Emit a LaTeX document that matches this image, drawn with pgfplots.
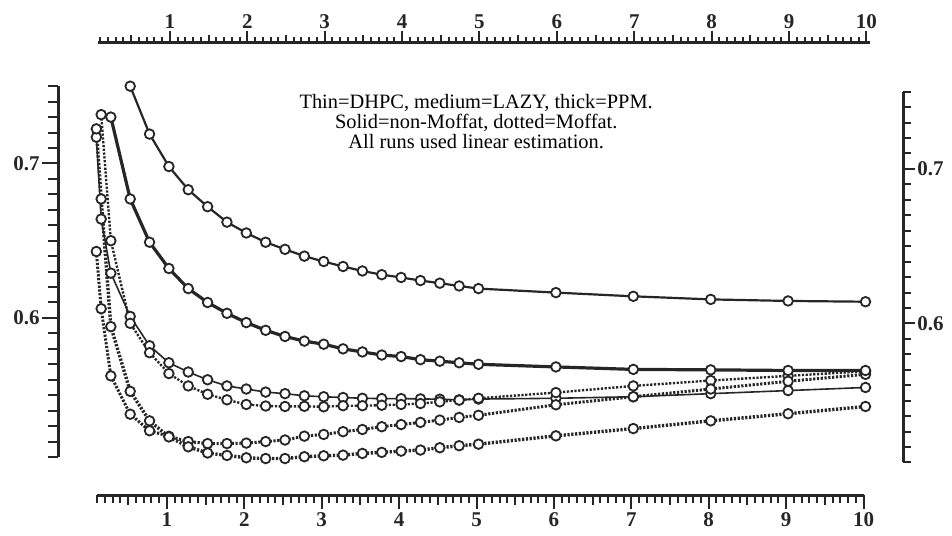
\documentclass[border=0pt]{standalone}
\usepackage{fontspec}
\setmainfont{Liberation Serif}
\usepackage{pgfplots}
\pgfplotsset{compat=1.18}

\pgfplotstableread{
x y
0.5 0.750
0.75 0.719
1.0 0.698
1.25 0.683
1.5 0.672
1.75 0.662
2.0 0.655
2.25 0.649
2.5 0.6444
2.75 0.640
3.0 0.6365
3.25 0.6333
3.5 0.6304
3.75 0.628
4.0 0.6262
4.25 0.6242
4.5 0.6225
4.75 0.6207
5.0 0.619
6.0 0.6164
7.0 0.614
8.0 0.612
9.0 0.611
10.0 0.6105
}\tabA
\pgfplotstableread{
x y
0.25 0.730
0.5 0.677
0.75 0.649
1.0 0.632
1.25 0.619
1.5 0.610
1.75 0.603
2.0 0.597
2.25 0.592
2.5 0.588
2.75 0.585
3.0 0.583
3.25 0.580
3.5 0.578
3.75 0.576
4.0 0.575
4.25 0.573
4.5 0.572
4.75 0.571
5.0 0.570
6.0 0.5683
7.0 0.5667
8.0 0.5664
9.0 0.566
10.0 0.566
}\tabB
\pgfplotstableread{
x y
0.0625 0.717
0.125 0.664
0.25 0.629
0.5 0.601
0.75 0.582
1.0 0.571
1.25 0.565
1.5 0.560
1.75 0.556
2.0 0.554
2.25 0.552
2.5 0.551
2.75 0.5496
3.0 0.549
3.25 0.5485
3.5 0.548
3.75 0.5478
4.0 0.5478
4.25 0.5476
4.5 0.5474
4.75 0.547
5.0 0.5475
6.0 0.548
7.0 0.549
8.0 0.551
9.0 0.553
10.0 0.555
}\tabC
\pgfplotstableread{
x y
0.125 0.7316
0.25 0.650
0.5 0.5965
0.75 0.5775
1.0 0.564
1.25 0.556
1.5 0.5506
1.75 0.547
2.0 0.544
2.25 0.543
2.5 0.5427
2.75 0.5428
3.0 0.5425
3.25 0.5432
3.5 0.5432
3.75 0.5435
4.0 0.544
4.25 0.5446
4.5 0.5457
4.75 0.5468
5.0 0.548
6.0 0.5517
7.0 0.556
8.0 0.5595
9.0 0.5625
10.0 0.5655
}\tabD
\pgfplotstableread{
x y
0.0625 0.643
0.125 0.606
0.25 0.5625
0.5 0.5377
0.75 0.527
1.0 0.5234
1.25 0.520
1.5 0.5187
1.75 0.5187
2.0 0.519
2.25 0.520
2.5 0.521
2.75 0.5235
3.0 0.5246
3.25 0.5264
3.5 0.5278
3.75 0.5296
4.0 0.531
4.25 0.5324
4.5 0.5339
4.75 0.5356
5.0 0.537
6.0 0.5438
7.0 0.549
8.0 0.554
9.0 0.559
10.0 0.5635
}\tabE
\pgfplotstableread{
x y
0.0625 0.7224
0.125 0.677
0.25 0.5944
0.5 0.5525
0.75 0.5334
1.0 0.523
1.25 0.5166
1.5 0.5126
1.75 0.511
2.0 0.5095
2.25 0.509
2.5 0.509
2.75 0.5102
3.0 0.5108
3.25 0.5112
3.5 0.5123
3.75 0.513
4.0 0.5138
4.25 0.5145
4.5 0.516
4.75 0.5173
5.0 0.5183
6.0 0.5237
7.0 0.5284
8.0 0.5334
9.0 0.538
10.0 0.5427
}\tabF

\pgfplotsset{
  ruler/.style={
    tick align=outside,
    /pgf/number format/assume math mode=true,
    tick label style={font=\fontsize{10.5}{12}\selectfont\bfseries, text=black!85},
    axis line style={line width=1.5pt, black!85},
    every tick/.style={line width=1pt, black!85},
  },
  ser/.style={black!85, mark=*, mark size=2.4pt,
    mark options={solid, fill=white, draw=black!85, line width=0.9pt}},
  dot/.style={dash pattern=on 1.1pt off 0.8pt},
}

\begin{document}
\begin{tikzpicture}
\path[use as bounding box] (0,0) rectangle (476pt,267.5pt);

% left ruler + data
\begin{axis}[ruler,
  at={(29pt,39pt)}, anchor=south west,
  x=38.7pt, y=772.5pt,
  xmin=-0.4328, xmax=10.484, ymin=0.51, ymax=0.75,
  clip=false,
  axis x line=none, axis y line*=left,
  ytick={0.6,0.7}, yticklabels={0.6,0.7},
  minor ytick={0.51,0.52,0.53,0.54,0.55,0.56,0.57,0.58,0.59,0.61,0.62,0.63,0.64,0.65,0.66,0.67,0.68,0.69,0.71,0.72,0.73,0.74,0.75},
  major tick length=8pt, minor tick length=5pt,
  yticklabel style={inner sep=1pt},
]
\addplot[ser, line width=0.8pt] table {\tabC};
\addplot[ser, dot, line width=1.2pt] table {\tabD};
\addplot[ser, dot, line width=1.5pt] table {\tabE};
\addplot[ser, dot, line width=1.7pt] table {\tabF};
\addplot[ser, line width=1.6pt] table {\tabB};
\addplot[ser, line width=1.1pt] table {\tabA};
\node[align=center, font=\fontsize{10.2}{10}\selectfont, text=black] at (axis cs:4.97,0.7268)
  {Thin=DHPC, medium=LAZY, thick=PPM.\\Solid=non-Moffat, dotted=Moffat.\\All runs used linear estimation.};
\end{axis}

% right ruler
\begin{axis}[ruler,
  at={(451.5pt,36.25pt)}, anchor=south east,
  x=1pt, xmin=0, xmax=1,
  y=772.5pt, ymin=0.51, ymax=0.75,
  axis x line=none, axis y line*=right,
  ytick={0.6,0.7}, yticklabels={0.6,0.7},
  minor ytick={0.51,0.52,0.53,0.54,0.55,0.56,0.57,0.58,0.59,0.61,0.62,0.63,0.64,0.65,0.66,0.67,0.68,0.69,0.71,0.72,0.73,0.74,0.75},
  major tick length=6pt, minor tick length=4pt,
  yticklabel style={inner sep=1pt},
]
\end{axis}

% top ruler
\begin{axis}[ruler,
  at={(48.95pt,246.35pt)}, anchor=north west,
  x=38.7pt, xmin=0.07, xmax=10.04,
  y=1pt, ymin=0, ymax=1,
  axis y line=none, axis x line*=top,
  xtick={1,2,3,4,5,6,7,8,9,10},
  minor xtick={0.1,0.2,...,10.0},
  extra x ticks={0.5,1.5,2.5,3.5,4.5,5.5,6.5,7.5,8.5,9.5},
  extra x tick labels={},
  extra x tick style={major tick length=3.5pt},
  major tick length=5.5pt, minor tick length=2.5pt,
  xticklabel style={inner sep=1pt},
]
\end{axis}

% bottom ruler
\begin{axis}[ruler,
  at={(48.25pt,20pt)}, anchor=south west,
  x=38.7pt, xmin=0.09, xmax=10.0,
  y=1pt, ymin=0, ymax=1,
  axis y line=none, axis x line*=bottom,
  xtick={1,2,3,4,5,6,7,8,9,10},
  minor xtick={0.1,0.2,...,10.0},
  extra x ticks={0.5,1.5,2.5,3.5,4.5,5.5,6.5,7.5,8.5,9.5},
  extra x tick labels={},
  extra x tick style={major tick length=5pt},
  major tick length=7pt, minor tick length=4pt,
  xticklabel style={inner sep=1.5pt},
]
\end{axis}
\end{tikzpicture}
\end{document}
